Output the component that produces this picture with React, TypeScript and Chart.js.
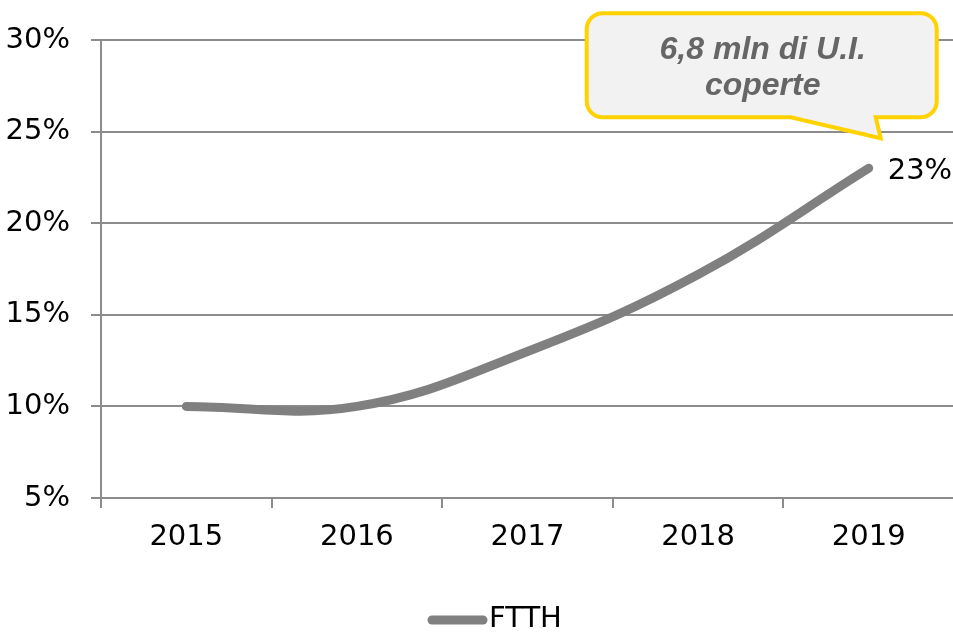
import React, { useEffect, useRef } from "react";
import { Chart, registerables } from "chart.js";

Chart.register(...registerables);

const categories = ["2015", "2016", "2017", "2018", "2019"];
const ftthValues = [10, 10, 13, 17.2, 23];
const seriesLabel = "FTTH";
const yTicks = { min: 5, max: 30, step: 5 };
const lastLabel = "23%";
const calloutLines = ["6,8 mln di U.I.", "coperte"];

const GRID = "#8c8c8c";
const LINE = "#808080";
const FONT = "'DejaVu Sans', Verdana, sans-serif";
const FS = 29;

const overlayPlugin = {
  id: "overlay",
  afterDraw(chart: any) {
    const ctx = chart.ctx as CanvasRenderingContext2D;
    const meta = chart.getDatasetMeta(0);
    const last = meta.data[meta.data.length - 1];
    const px = last.x;
    const py = last.y;

    // data label
    ctx.save();
    ctx.font = `${FS}px ${FONT}`;
    ctx.fillStyle = "#000";
    ctx.textAlign = "left";
    ctx.textBaseline = "middle";
    ctx.fillText(lastLabel, px + 19, py + 3);
    ctx.restore();

    // callout
    const L = px - 282, R = px + 68, T = py - 155, B = py - 51, r = 16;
    ctx.save();
    ctx.beginPath();
    ctx.moveTo(L + r, T);
    ctx.lineTo(R - r, T);
    ctx.arcTo(R, T, R, T + r, r);
    ctx.lineTo(R, B - r);
    ctx.arcTo(R, B, R - r, B, r);
    ctx.lineTo(px + 7, B);
    ctx.lineTo(px + 12, py - 30);
    ctx.lineTo(px - 78, B);
    ctx.lineTo(L + r, B);
    ctx.arcTo(L, B, L, B - r, r);
    ctx.lineTo(L, T + r);
    ctx.arcTo(L, T, L + r, T, r);
    ctx.closePath();
    ctx.fillStyle = "#f2f2f2";
    ctx.fill();
    ctx.lineWidth = 4;
    ctx.lineJoin = "miter";
    ctx.strokeStyle = "#ffd200";
    ctx.stroke();
    ctx.font = `italic bold 32px 'Liberation Sans', Arial, sans-serif`;
    ctx.fillStyle = "#666666";
    ctx.textAlign = "center";
    ctx.textBaseline = "alphabetic";
    ctx.fillText(calloutLines[0], px - 106, py - 109);
    ctx.fillText(calloutLines[1], px - 106, py - 73);
    ctx.restore();

    // legend
    const lx = chart.width / 2 - 49;
    const ly = 620;
    ctx.save();
    ctx.strokeStyle = LINE;
    ctx.lineWidth = 9;
    ctx.lineCap = "round";
    ctx.beginPath();
    ctx.moveTo(lx + 4, ly);
    ctx.lineTo(lx + 55, ly);
    ctx.stroke();
    ctx.font = `${FS}px ${FONT}`;
    ctx.fillStyle = "#000";
    ctx.textAlign = "left";
    ctx.textBaseline = "middle";
    ctx.fillText(chart.data.datasets[0].label, lx + 61, ly - 1);
    ctx.restore();
  },
};

export default function App() {
  const ref = useRef<HTMLCanvasElement>(null);
  useEffect(() => {
    if (!ref.current) return;
    const chart = new Chart(ref.current, {
      type: "line",
      data: {
        labels: categories,
        datasets: [
          {
            label: seriesLabel,
            data: ftthValues,
            borderColor: LINE,
            backgroundColor: LINE,
            borderWidth: 9,
            borderCapStyle: "round",
            tension: 0.4,
            pointRadius: 0,
            pointHoverRadius: 0,
            fill: false,
          },
        ],
      },
      options: {
        animation: false,
        responsive: true,
        maintainAspectRatio: false,
        layout: { padding: { top: 40, right: 0, left: 0, bottom: 0 } },
        plugins: { legend: { display: false }, tooltip: { enabled: false } },
        scales: {
          x: {
            offset: true,
            grid: {
              offset: true,
              drawOnChartArea: false,
              drawTicks: true,
              tickLength: 10,
              color: GRID,
              lineWidth: 2,
            },
            border: { display: true, color: GRID, width: 2 },
            ticks: { font: { family: FONT, size: FS }, color: "#000", padding: 12 },
            afterFit: (s: any) => {
              s.height = 135;
            },
          },
          y: {
            min: yTicks.min,
            max: yTicks.max,
            grid: { color: GRID, lineWidth: 2, tickLength: 10, drawTicks: true },
            border: { display: true, color: GRID, width: 2 },
            ticks: {
              stepSize: yTicks.step,
              font: { family: FONT, size: FS },
              color: "#000",
              padding: 21,
              callback: (v: any) => v + "%",
            },
            afterFit: (s: any) => {
              s.width = 101;
            },
          },
        },
      },
      plugins: [overlayPlugin],
    });
    return () => chart.destroy();
  }, []);
  return (
    <div style={{ position: "fixed", left: 0, top: 0, width: 954, height: 633, background: "#fff" }}>
      <canvas ref={ref} />
    </div>
  );
}
